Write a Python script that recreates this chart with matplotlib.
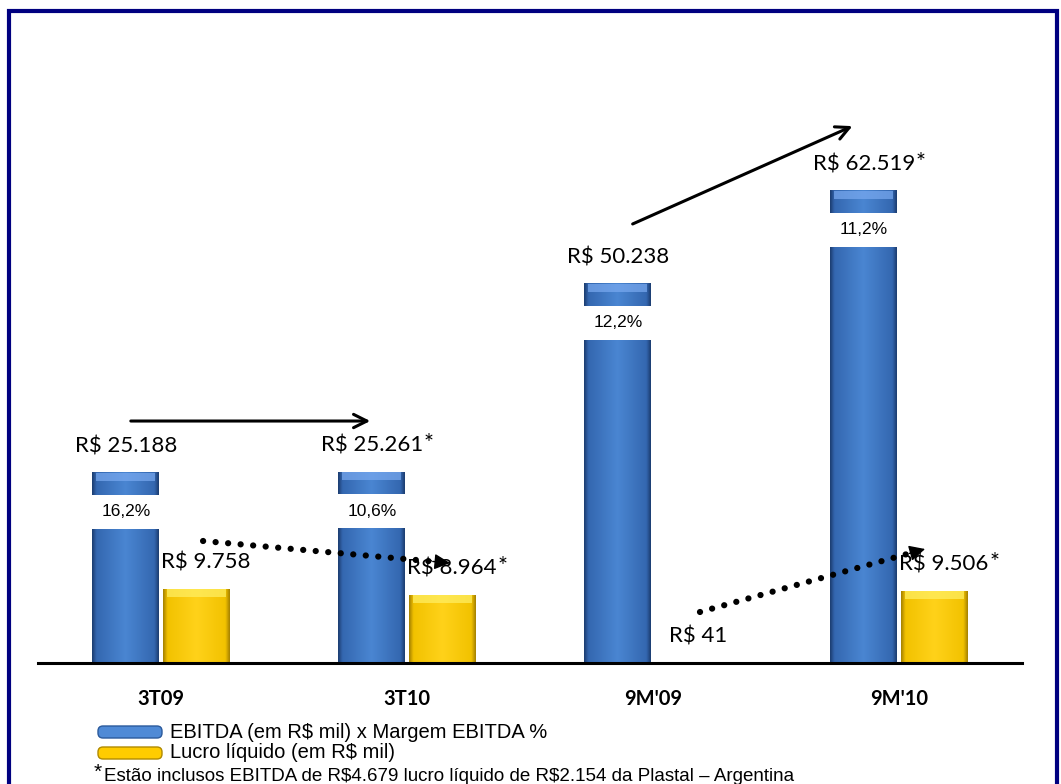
import numpy as np
import matplotlib
matplotlib.use("Agg")
import matplotlib.pyplot as plt
from matplotlib.colors import LinearSegmentedColormap
from matplotlib.patches import Rectangle, FancyBboxPatch

# EBITDA, net income and EBITDA margin per period
periods = ["3T09", "3T10", "9M'09", "9M'10"]
ebitda = [25188, 25261, 50238, 62519]
lucro = [9758, 8964, 41, 9506]
margem = [16.2, 10.6, 12.2, 11.2]
star_ebitda = [False, True, False, True]
star_lucro = [False, True, False, True]

BLUE = "#3f78c4"
YELLOW = "#ffcc00"
blue_cols = [(0, "#1d3f73"), (0.06, "#3467b0"), (0.5, "#4a86d2"), (0.94, "#3467b0"), (1, "#1d3f73")]
yellow_cols = [(0, "#a98400"), (0.06, "#f2c200"), (0.5, "#ffd21a"), (0.94, "#f2c200"), (1, "#a98400")]

W, H = 1061, 784
fig = plt.figure(figsize=(W / 100, H / 100), dpi=100)
ax = fig.add_axes([38 / W, 1 - 663 / H, 984 / W, 604 / H])

x = np.arange(len(periods))
bw = 0.272
off = 0.143
YMAX = 80000
ypx = 604 / YMAX  # pixels per unit


def fmt(v):
    return "R$ " + f"{v:,}".replace(",", ".")


def shade(x0, w, y0, y1, cols, z):
    cmap = LinearSegmentedColormap.from_list("g", cols)
    grad = np.linspace(0, 1, 64)[None, :]
    ax.imshow(grad, cmap=cmap, extent=[x0, x0 + w, y0, y1], aspect="auto",
              interpolation="bicubic", zorder=z)


def bevel(x0, w, top, light, z):
    # soft light strip along the top edge of a bar
    h = 8 / ypx
    ax.add_patch(Rectangle((x0 + w * 0.06, top - h), w * 0.88, h, facecolor=light,
                           edgecolor="none", alpha=0.7, zorder=z + 0.1))


def value_label(xc, v, star):
    t = ax.annotate(fmt(v), (xc, v), xytext=(0, 19), textcoords="offset points",
                    ha="center", va="center", fontsize=16, family="Lato", parse_math=False)
    if star:
        ax.annotate("*", xy=(1.0, 0.62), xycoords=t, xytext=(0.5, 0), textcoords="offset points",
                    ha="left", va="center", fontsize=17, family="Lato")


b1 = ax.bar(x - off, ebitda, bw, color=BLUE, zorder=1)
b2 = ax.bar(x + off, lucro, bw, color=YELLOW, zorder=1)

band_gap = 22 / ypx
band_h = 34 / ypx
for i in range(len(periods)):
    # EBITDA bar with white band holding the margin
    x0 = x[i] - off - bw / 2
    shade(x0, bw, 0, ebitda[i], blue_cols, 2)
    bevel(x0, bw, ebitda[i], "#7aaaf0", 2)
    btop = ebitda[i] - band_gap
    ax.add_patch(Rectangle((x0 - 0.002, btop - band_h), bw + 0.004, band_h,
                           facecolor="white", edgecolor="none", zorder=3))
    ax.text(x[i] - off, btop - band_h / 2, f"{margem[i]:.1f}%".replace(".", ","),
            ha="center", va="center", fontsize=12.5, family="Liberation Sans", zorder=4)
    value_label(x[i] - off, ebitda[i], star_ebitda[i])

    # net income bar
    x1 = x[i] + off - bw / 2
    if lucro[i] > 0:
        shade(x1, bw, 0, lucro[i], yellow_cols, 2)
        if lucro[i] * ypx > 10:
            bevel(x1, bw, lucro[i], "#fff066", 2)
    value_label(x[i] + off + 0.04, lucro[i], star_lucro[i])

# trend arrows
solid = [((-0.134, 32050), (0.862, 32050)), ((1.907, 58000), (2.821, 71260))]
for (xs, ys), (xe, ye) in solid:
    ax.annotate("", xy=(xe, ye), xytext=(xs, ys),
                arrowprops=dict(arrowstyle="->", color="black", lw=2.2, mutation_scale=24))

dotted = [((0.171, 16160), (1.175, 13245)), ((2.191, 6755), (3.106, 15100))]
for (xs, ys), (xe, ye) in dotted:
    t = 0.93
    xm, ym = xs + (xe - xs) * t, ys + (ye - ys) * t
    ax.plot([xs, xm], [ys, ym], color="black", lw=4.5,
            linestyle=(0, (0.01, 2.0)), dash_capstyle="round", zorder=5)
    ax.annotate("", xy=(xe, ye), xytext=(xm, ym),
                arrowprops=dict(arrowstyle="-|>", color="black", lw=1, mutation_scale=24,
                                shrinkA=0, shrinkB=0), zorder=5)

ax.set_xlim(-0.5, 3.5)
ax.set_ylim(0, YMAX)
ax.set_xticks(x)
ax.set_xticklabels(periods, fontsize=14.5, fontweight="bold", family="Lato")
ax.tick_params(axis="x", length=0, pad=19)
ax.set_yticks([])
for s in ["left", "right", "top"]:
    ax.spines[s].set_visible(False)
ax.spines["bottom"].set_linewidth(2.2)
ax.spines["bottom"].set_zorder(6)

# legend and footnote, placed in pixel units (1 inch = 100 px)
inch = fig.dpi_scale_trans


def px(xp, yp):
    return xp / 100, (H - yp) / 100


for yc, face, edge in [(732, "#4f8ad6", "#2b5a9c"), (753, "#ffcc00", "#b08a00")]:
    x0, y0 = px(98, yc + 6)
    fig.patches.append(FancyBboxPatch((x0, y0), 0.64, 0.12, boxstyle="round,pad=0,rounding_size=0.05",
                                      transform=inch, facecolor=face, edgecolor=edge, lw=1))
fig.text(*px(170, 732), "EBITDA (em R$ mil) x Margem EBITDA %", transform=inch,
         va="center", fontsize=14.5, family="Liberation Sans", parse_math=False)
fig.text(*px(170, 753), "Lucro líquido (em R$ mil)", transform=inch,
         va="center", fontsize=14.5, family="Liberation Sans", parse_math=False)
fig.text(*px(94, 778), "*", transform=inch, va="baseline", fontsize=15, family="Liberation Sans")
fig.text(*px(104, 781), "Estão inclusos EBITDA de R$4.679 lucro líquido de R$2.154 da Plastal – Argentina",
         transform=inch, va="baseline", fontsize=13.5, family="Liberation Sans", parse_math=False)

# page frame
fig.patches.append(Rectangle(px(9, 800), 10.48, 7.89, transform=inch, fill=False,
                             edgecolor="#000080", lw=3))

fig.savefig("out.png", dpi=100)
